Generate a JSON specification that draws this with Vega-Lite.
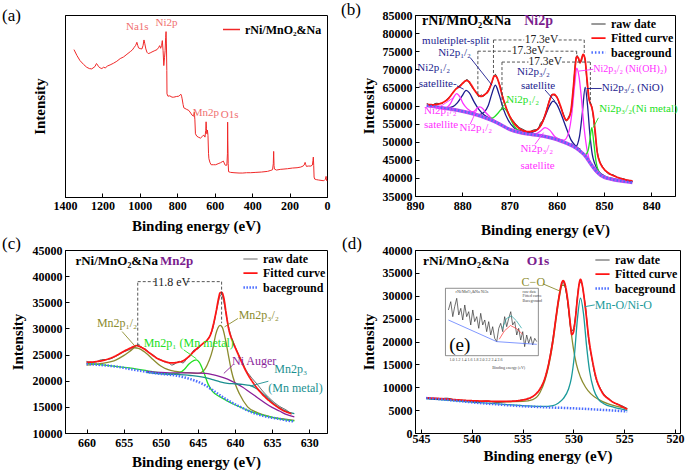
{
"$schema":"https://vega.github.io/schema/vega-lite/v6.json",
"padding":{"left":1,"top":0,"right":0,"bottom":0},
"background":"white",
"config":{
 "font":"Liberation Serif",
 "view":{"stroke":"black","strokeWidth":1},
 "axis":{"domainColor":"black","domainWidth":1,"tickColor":"black","tickSize":-4,"labelFont":"Liberation Serif","labelFontSize":12,"labelFontWeight":"bold","labelColor":"black","titleFont":"Liberation Serif","titleFontSize":15,"titleFontWeight":"bold","titleColor":"black","grid":false,"labelPadding":7,"labelFlush":false,"labelOverlap":false},
 "legend":{"orient":"top-right","offset":1,"labelFont":"Liberation Serif","labelFontSize":12,"labelFontWeight":"bold","labelColor":"black","symbolType":"stroke","symbolSize":200,"rowPadding":0,"padding":0},
 "title":{"font":"Liberation Serif","fontSize":17,"fontWeight":"normal","anchor":"start","frame":"group","baseline":"alphabetic","offset":1,"dy":11,"color":"black"},
 "text":{"font":"Liberation Serif"}
},
"datasets":{
 "a_curve":[{"x":1352,"y":443},{"x":1336,"y":425},{"x":1320,"y":410},{"x":1300,"y":398},{"x":1284,"y":390},{"x":1270,"y":386},{"x":1257,"y":385},{"x":1240,"y":392},{"x":1232,"y":401},{"x":1228,"y":399},{"x":1221,"y":392},{"x":1212,"y":388},{"x":1203,"y":386},{"x":1194,"y":390},{"x":1185,"y":388},{"x":1172,"y":394},{"x":1159,"y":397},{"x":1141,"y":402},{"x":1123,"y":408},{"x":1105,"y":416},{"x":1087,"y":421},{"x":1069,"y":429},{"x":1051,"y":437},{"x":1040,"y":442},{"x":1030,"y":450},{"x":1022,"y":456},{"x":1016,"y":465},{"x":1011,"y":455},{"x":1007,"y":448},{"x":998,"y":446},{"x":989,"y":445},{"x":983,"y":455},{"x":978,"y":472},{"x":974,"y":462},{"x":968,"y":445},{"x":962,"y":435},{"x":955,"y":431},{"x":945,"y":433},{"x":935,"y":436},{"x":920,"y":440},{"x":908,"y":443},{"x":899,"y":450},{"x":894,"y":455},{"x":889,"y":447},{"x":884,"y":455},{"x":880,"y":470},{"x":876,"y":440},{"x":872,"y":395},{"x":868,"y":420},{"x":865,"y":440},{"x":862,"y":480},{"x":860,"y":497},{"x":858,"y":460},{"x":856,"y":380},{"x":855,"y":310},{"x":850,"y":303},{"x":840,"y":304},{"x":828,"y":300},{"x":819,"y":300},{"x":805,"y":302},{"x":792,"y":303},{"x":786,"y":306},{"x":781,"y":309},{"x":777,"y":303},{"x":774,"y":295},{"x":769,"y":278},{"x":765,"y":268},{"x":752,"y":264},{"x":738,"y":260},{"x":728,"y":252},{"x":721,"y":246},{"x":713,"y":243},{"x":709,"y":255},{"x":706,"y":232},{"x":703,"y":190},{"x":696,"y":183},{"x":688,"y":180},{"x":676,"y":177},{"x":665,"y":183},{"x":658,"y":186},{"x":652,"y":180},{"x":648,"y":200},{"x":646,"y":226},{"x":644,"y":205},{"x":642,"y":190},{"x":639,"y":201},{"x":636,"y":185},{"x":633,"y":130},{"x":631,"y":115},{"x":625,"y":103},{"x":619,"y":97},{"x":607,"y":97},{"x":595,"y":97},{"x":582,"y":100},{"x":569,"y":103},{"x":560,"y":106},{"x":554,"y":108},{"x":549,"y":102},{"x":546,"y":97},{"x":540,"y":95},{"x":535,"y":96},{"x":532,"y":130},{"x":531,"y":225},{"x":530,"y":170},{"x":528,"y":100},{"x":526,"y":76},{"x":515,"y":74},{"x":497,"y":73},{"x":470,"y":72},{"x":450,"y":72},{"x":430,"y":73},{"x":408,"y":73},{"x":380,"y":74},{"x":350,"y":75},{"x":318,"y":77},{"x":300,"y":80},{"x":291,"y":82},{"x":287,"y":100},{"x":285,"y":137},{"x":283,"y":95},{"x":281,"y":84},{"x":270,"y":81},{"x":250,"y":83},{"x":230,"y":84},{"x":211,"y":85},{"x":185,"y":87},{"x":160,"y":88},{"x":140,"y":90},{"x":128,"y":93},{"x":122,"y":96},{"x":117,"y":104},{"x":114,"y":98},{"x":110,"y":92},{"x":100,"y":93},{"x":86,"y":93},{"x":78,"y":96},{"x":75,"y":110},{"x":73,"y":120},{"x":71,"y":95},{"x":69,"y":60},{"x":66,"y":54},{"x":55,"y":52},{"x":45,"y":51},{"x":32,"y":50},{"x":20,"y":49},{"x":14,"y":50},{"x":9,"y":53},{"x":5,"y":62},{"x":3,"y":55},{"x":1,"y":48}],
 "a_label":[{"x":1014,"y":510,"t":"Na1s"},{"x":858,"y":523,"t":"Ni2p"},{"x":647,"y":253,"t":"Mn2p"},{"x":520,"y":247,"t":"O1s"}],
 "b_comp":[
  {"x":885,"y":59500,"c":"n1","g":"NiO"},{"x":883,"y":59400,"c":"n1","g":"NiO"},{"x":882,"y":59700,"c":"n1","g":"NiO"},{"x":881,"y":60800,"c":"n1","g":"NiO"},{"x":880,"y":62700,"c":"n1","g":"NiO"},{"x":879.2,"y":64200,"c":"n1","g":"NiO"},{"x":878.5,"y":63500,"c":"n1","g":"NiO"},{"x":877.5,"y":61000,"c":"n1","g":"NiO"},{"x":876.5,"y":58900,"c":"n1","g":"NiO"},{"x":875.5,"y":57500,"c":"n1","g":"NiO"},{"x":874,"y":56300,"c":"n1","g":"NiO"},{"x":872,"y":55000,"c":"n1","g":"NiO"},
  {"x":878,"y":57900,"c":"n2","g":"NiO"},{"x":876.5,"y":57500,"c":"n2","g":"NiO"},{"x":875.5,"y":58000,"c":"n2","g":"NiO"},{"x":874.5,"y":60000,"c":"n2","g":"NiO"},{"x":873.8,"y":63000,"c":"n2","g":"NiO"},{"x":873,"y":65600,"c":"n2","g":"NiO"},{"x":872.2,"y":63000,"c":"n2","g":"NiO"},{"x":871.3,"y":59000,"c":"n2","g":"NiO"},{"x":870.3,"y":56000,"c":"n2","g":"NiO"},{"x":869,"y":53800,"c":"n2","g":"NiO"},{"x":867,"y":52800,"c":"n2","g":"NiO"},{"x":865,"y":52300,"c":"n2","g":"NiO"},
  {"x":866,"y":52400,"c":"n3","g":"NiO"},{"x":864.5,"y":53000,"c":"n3","g":"NiO"},{"x":863.5,"y":54300,"c":"n3","g":"NiO"},{"x":862.5,"y":57000,"c":"n3","g":"NiO"},{"x":861.5,"y":60000,"c":"n3","g":"NiO"},{"x":860.8,"y":61200,"c":"n3","g":"NiO"},{"x":860,"y":60300,"c":"n3","g":"NiO"},{"x":859,"y":57300,"c":"n3","g":"NiO"},{"x":858,"y":53800,"c":"n3","g":"NiO"},{"x":857,"y":50500,"c":"n3","g":"NiO"},{"x":856,"y":48800,"c":"n3","g":"NiO"},{"x":855,"y":47800,"c":"n3","g":"NiO"},
  {"x":857,"y":49400,"c":"n4","g":"NiO"},{"x":856,"y":48700,"c":"n4","g":"NiO"},{"x":855.2,"y":51500,"c":"n4","g":"NiO"},{"x":854.6,"y":58000,"c":"n4","g":"NiO"},{"x":854,"y":65100,"c":"n4","g":"NiO"},{"x":853.5,"y":60000,"c":"n4","g":"NiO"},{"x":853,"y":52000,"c":"n4","g":"NiO"},{"x":852.5,"y":46500,"c":"n4","g":"NiO"},{"x":852,"y":44000,"c":"n4","g":"NiO"},{"x":851,"y":41600,"c":"n4","g":"NiO"},{"x":850,"y":40600,"c":"n4","g":"NiO"},{"x":848,"y":39800,"c":"n4","g":"NiO"},{"x":846,"y":39300,"c":"n4","g":"NiO"},{"x":844,"y":38900,"c":"n4","g":"NiO"},
  {"x":887.5,"y":60000,"c":"m1","g":"Ni(OH)2"},{"x":885,"y":59500,"c":"m1","g":"Ni(OH)2"},{"x":883.5,"y":59400,"c":"m1","g":"Ni(OH)2"},{"x":882.5,"y":60500,"c":"m1","g":"Ni(OH)2"},{"x":881.8,"y":62300,"c":"m1","g":"Ni(OH)2"},{"x":881.2,"y":63300,"c":"m1","g":"Ni(OH)2"},{"x":880.5,"y":62400,"c":"m1","g":"Ni(OH)2"},{"x":879.8,"y":60500,"c":"m1","g":"Ni(OH)2"},{"x":879,"y":59200,"c":"m1","g":"Ni(OH)2"},{"x":878,"y":58300,"c":"m1","g":"Ni(OH)2"},{"x":876,"y":57300,"c":"m1","g":"Ni(OH)2"},
  {"x":880,"y":58600,"c":"m2","g":"Ni(OH)2"},{"x":878.5,"y":58100,"c":"m2","g":"Ni(OH)2"},{"x":877.5,"y":58400,"c":"m2","g":"Ni(OH)2"},{"x":876.8,"y":59300,"c":"m2","g":"Ni(OH)2"},{"x":876.3,"y":59600,"c":"m2","g":"Ni(OH)2"},{"x":875.7,"y":59200,"c":"m2","g":"Ni(OH)2"},{"x":875,"y":58000,"c":"m2","g":"Ni(OH)2"},{"x":874,"y":56700,"c":"m2","g":"Ni(OH)2"},{"x":873,"y":55700,"c":"m2","g":"Ni(OH)2"},
  {"x":866,"y":52300,"c":"m3","g":"Ni(OH)2"},{"x":864.5,"y":52200,"c":"m3","g":"Ni(OH)2"},{"x":863.5,"y":52900,"c":"m3","g":"Ni(OH)2"},{"x":862.5,"y":53900,"c":"m3","g":"Ni(OH)2"},{"x":861.5,"y":53200,"c":"m3","g":"Ni(OH)2"},{"x":860.5,"y":51500,"c":"m3","g":"Ni(OH)2"},{"x":859.5,"y":50700,"c":"m3","g":"Ni(OH)2"},{"x":858.5,"y":50200,"c":"m3","g":"Ni(OH)2"},
  {"x":861,"y":51100,"c":"m4","g":"Ni(OH)2"},{"x":859.5,"y":50600,"c":"m4","g":"Ni(OH)2"},{"x":858.5,"y":50400,"c":"m4","g":"Ni(OH)2"},{"x":857.5,"y":52500,"c":"m4","g":"Ni(OH)2"},{"x":856.8,"y":58000,"c":"m4","g":"Ni(OH)2"},{"x":856.2,"y":66000,"c":"m4","g":"Ni(OH)2"},{"x":855.8,"y":70300,"c":"m4","g":"Ni(OH)2"},{"x":855.3,"y":68000,"c":"m4","g":"Ni(OH)2"},{"x":854.8,"y":62000,"c":"m4","g":"Ni(OH)2"},{"x":854.2,"y":53500,"c":"m4","g":"Ni(OH)2"},{"x":853.5,"y":47000,"c":"m4","g":"Ni(OH)2"},{"x":853,"y":44500,"c":"m4","g":"Ni(OH)2"},{"x":852.5,"y":43000,"c":"m4","g":"Ni(OH)2"},{"x":852,"y":42000,"c":"m4","g":"Ni(OH)2"},{"x":851,"y":40900,"c":"m4","g":"Ni(OH)2"},{"x":849,"y":39800,"c":"m4","g":"Ni(OH)2"},
  {"x":876,"y":57000,"c":"g1","g":"Ni metal"},{"x":874.5,"y":56400,"c":"g1","g":"Ni metal"},{"x":873.5,"y":56600,"c":"g1","g":"Ni metal"},{"x":872.5,"y":57800,"c":"g1","g":"Ni metal"},{"x":871.7,"y":59000,"c":"g1","g":"Ni metal"},{"x":871.2,"y":59300,"c":"g1","g":"Ni metal"},{"x":870.6,"y":58500,"c":"g1","g":"Ni metal"},{"x":869.8,"y":56300,"c":"g1","g":"Ni metal"},{"x":869,"y":54300,"c":"g1","g":"Ni metal"},{"x":868,"y":53000,"c":"g1","g":"Ni metal"},{"x":866.5,"y":52400,"c":"g1","g":"Ni metal"},
  {"x":855,"y":47600,"c":"g2","g":"Ni metal"},{"x":854,"y":46400,"c":"g2","g":"Ni metal"},{"x":853.4,"y":47500,"c":"g2","g":"Ni metal"},{"x":853,"y":50500,"c":"g2","g":"Ni metal"},{"x":852.6,"y":53900,"c":"g2","g":"Ni metal"},{"x":852.2,"y":50000,"c":"g2","g":"Ni metal"},{"x":851.7,"y":44500,"c":"g2","g":"Ni metal"},{"x":851,"y":41500,"c":"g2","g":"Ni metal"},{"x":850,"y":40400,"c":"g2","g":"Ni metal"},{"x":848,"y":39700,"c":"g2","g":"Ni metal"}
 ],
 "b_main":[
  {"x":887.5,"y":60500,"s":"raw date"},{"x":886.5,"y":60100,"s":"raw date"},{"x":885.5,"y":60600,"s":"raw date"},{"x":884.5,"y":60500,"s":"raw date"},{"x":883.5,"y":61400,"s":"raw date"},{"x":882.5,"y":62700,"s":"raw date"},{"x":881.5,"y":64400,"s":"raw date"},{"x":880.5,"y":65600,"s":"raw date"},{"x":879.5,"y":66500,"s":"raw date"},{"x":879,"y":67200,"s":"raw date"},{"x":878.5,"y":66200,"s":"raw date"},{"x":877.5,"y":64300,"s":"raw date"},{"x":877,"y":63700,"s":"raw date"},{"x":876.5,"y":62400,"s":"raw date"},{"x":876,"y":62900,"s":"raw date"},{"x":875.5,"y":62600,"s":"raw date"},{"x":875,"y":63300,"s":"raw date"},{"x":874.5,"y":64300,"s":"raw date"},{"x":874,"y":65500,"s":"raw date"},{"x":873.5,"y":67300,"s":"raw date"},{"x":873,"y":68600,"s":"raw date"},{"x":872.5,"y":67100,"s":"raw date"},{"x":872,"y":65400,"s":"raw date"},{"x":871.5,"y":62800,"s":"raw date"},{"x":871,"y":60200,"s":"raw date"},{"x":870.5,"y":58700,"s":"raw date"},{"x":870,"y":57200,"s":"raw date"},{"x":869,"y":55400,"s":"raw date"},{"x":868,"y":54000,"s":"raw date"},{"x":867,"y":53300,"s":"raw date"},{"x":866,"y":52600,"s":"raw date"},{"x":865,"y":53200,"s":"raw date"},{"x":864,"y":53400,"s":"raw date"},{"x":863.5,"y":55000,"s":"raw date"},{"x":863,"y":55900,"s":"raw date"},{"x":862.5,"y":57400,"s":"raw date"},{"x":862,"y":59500,"s":"raw date"},{"x":861.5,"y":61700,"s":"raw date"},{"x":861,"y":63100,"s":"raw date"},{"x":860.5,"y":62800,"s":"raw date"},{"x":860,"y":62500,"s":"raw date"},{"x":859.5,"y":60500,"s":"raw date"},{"x":859,"y":59000,"s":"raw date"},{"x":858.5,"y":57300,"s":"raw date"},{"x":858,"y":55700,"s":"raw date"},{"x":857.5,"y":56900,"s":"raw date"},{"x":857,"y":58400,"s":"raw date"},{"x":856.5,"y":64800,"s":"raw date"},{"x":856,"y":72500,"s":"raw date"},{"x":855.7,"y":73800,"s":"raw date"},{"x":855.4,"y":72700,"s":"raw date"},{"x":855.1,"y":72000,"s":"raw date"},{"x":854.8,"y":72200,"s":"raw date"},{"x":854.5,"y":74000,"s":"raw date"},{"x":854.1,"y":73200,"s":"raw date"},{"x":853.7,"y":67800,"s":"raw date"},{"x":853.3,"y":62400,"s":"raw date"},{"x":853,"y":60900,"s":"raw date"},{"x":852.7,"y":60200,"s":"raw date"},{"x":852.4,"y":58000,"s":"raw date"},{"x":852,"y":53500,"s":"raw date"},{"x":851.5,"y":47800,"s":"raw date"},{"x":851,"y":44800,"s":"raw date"},{"x":850.5,"y":43500,"s":"raw date"},{"x":850,"y":42500,"s":"raw date"},{"x":849,"y":41100,"s":"raw date"},{"x":848,"y":40800,"s":"raw date"},{"x":847,"y":40000,"s":"raw date"},{"x":846,"y":39800,"s":"raw date"},{"x":845,"y":39300,"s":"raw date"},{"x":844,"y":39100,"s":"raw date"},
  {"x":887.5,"y":60300,"s":"Fitted curve"},{"x":886,"y":60200,"s":"Fitted curve"},{"x":885,"y":60400,"s":"Fitted curve"},{"x":884,"y":60900,"s":"Fitted curve"},{"x":883,"y":61800,"s":"Fitted curve"},{"x":882,"y":63500,"s":"Fitted curve"},{"x":881.2,"y":64700,"s":"Fitted curve"},{"x":880.5,"y":65300,"s":"Fitted curve"},{"x":879.8,"y":66300,"s":"Fitted curve"},{"x":879.2,"y":66900,"s":"Fitted curve"},{"x":878.6,"y":66600,"s":"Fitted curve"},{"x":878,"y":65500,"s":"Fitted curve"},{"x":877.2,"y":63800,"s":"Fitted curve"},{"x":876.5,"y":62800,"s":"Fitted curve"},{"x":876,"y":62500,"s":"Fitted curve"},{"x":875.3,"y":63000,"s":"Fitted curve"},{"x":874.5,"y":64000,"s":"Fitted curve"},{"x":873.8,"y":66200,"s":"Fitted curve"},{"x":873.2,"y":68200,"s":"Fitted curve"},{"x":872.8,"y":68000,"s":"Fitted curve"},{"x":872.2,"y":66000,"s":"Fitted curve"},{"x":871.5,"y":62500,"s":"Fitted curve"},{"x":871,"y":60500,"s":"Fitted curve"},{"x":870.3,"y":58000,"s":"Fitted curve"},{"x":869.5,"y":56000,"s":"Fitted curve"},{"x":868.5,"y":54300,"s":"Fitted curve"},{"x":867,"y":53000,"s":"Fitted curve"},{"x":866,"y":52800,"s":"Fitted curve"},{"x":865,"y":52900,"s":"Fitted curve"},{"x":864,"y":53500,"s":"Fitted curve"},{"x":863,"y":55500,"s":"Fitted curve"},{"x":862.2,"y":58500,"s":"Fitted curve"},{"x":861.5,"y":61500,"s":"Fitted curve"},{"x":861,"y":62900,"s":"Fitted curve"},{"x":860.6,"y":63100,"s":"Fitted curve"},{"x":860,"y":62300,"s":"Fitted curve"},{"x":859.2,"y":59800,"s":"Fitted curve"},{"x":858.5,"y":57000,"s":"Fitted curve"},{"x":858,"y":56000,"s":"Fitted curve"},{"x":857.5,"y":56500,"s":"Fitted curve"},{"x":857,"y":58800,"s":"Fitted curve"},{"x":856.5,"y":65000,"s":"Fitted curve"},{"x":856.1,"y":71000,"s":"Fitted curve"},{"x":855.8,"y":73500,"s":"Fitted curve"},{"x":855.4,"y":73000,"s":"Fitted curve"},{"x":855.1,"y":71800,"s":"Fitted curve"},{"x":854.8,"y":72800,"s":"Fitted curve"},{"x":854.4,"y":74100,"s":"Fitted curve"},{"x":854,"y":72500,"s":"Fitted curve"},{"x":853.6,"y":67000,"s":"Fitted curve"},{"x":853.2,"y":62000,"s":"Fitted curve"},{"x":852.9,"y":60500,"s":"Fitted curve"},{"x":852.6,"y":59500,"s":"Fitted curve"},{"x":852.3,"y":57500,"s":"Fitted curve"},{"x":851.9,"y":53000,"s":"Fitted curve"},{"x":851.5,"y":47500,"s":"Fitted curve"},{"x":851,"y":44700,"s":"Fitted curve"},{"x":850.5,"y":43300,"s":"Fitted curve"},{"x":850,"y":42400,"s":"Fitted curve"},{"x":849,"y":41300,"s":"Fitted curve"},{"x":848,"y":40600,"s":"Fitted curve"},{"x":847,"y":40100,"s":"Fitted curve"},{"x":846,"y":39700,"s":"Fitted curve"},{"x":845,"y":39400,"s":"Fitted curve"},{"x":844,"y":39200,"s":"Fitted curve"},
  {"x":887.5,"y":60000,"s":"baceground"},{"x":886,"y":59700,"s":"baceground"},{"x":884,"y":59300,"s":"baceground"},{"x":882,"y":58900,"s":"baceground"},{"x":880,"y":58400,"s":"baceground"},{"x":878,"y":57800,"s":"baceground"},{"x":876,"y":57000,"s":"baceground"},{"x":874,"y":56000,"s":"baceground"},{"x":872,"y":54800,"s":"baceground"},{"x":870,"y":53400,"s":"baceground"},{"x":868,"y":52600,"s":"baceground"},{"x":866,"y":52100,"s":"baceground"},{"x":864,"y":51800,"s":"baceground"},{"x":862,"y":51300,"s":"baceground"},{"x":860,"y":50600,"s":"baceground"},{"x":858,"y":49600,"s":"baceground"},{"x":856,"y":48300,"s":"baceground"},{"x":855,"y":47300,"s":"baceground"},{"x":854,"y":46100,"s":"baceground"},{"x":853,"y":44200,"s":"baceground"},{"x":852,"y":42400,"s":"baceground"},{"x":851,"y":41000,"s":"baceground"},{"x":850,"y":40200,"s":"baceground"},{"x":849,"y":39800,"s":"baceground"},{"x":848,"y":39500,"s":"baceground"},{"x":846,"y":39100,"s":"baceground"},{"x":844,"y":38700,"s":"baceground"}
 ],
 "b_guide":[{"x":873.4,"y":78100,"x2":866.9,"y2":78100},{"x":859.6,"y":78100,"x2":854.2,"y2":78100},{"x":873.4,"y":78100,"x2":873.4,"y2":68300},{"x":854.2,"y":78100,"x2":854.2,"y2":74200},{"x":876.7,"y":75000,"x2":869.6,"y2":75000},{"x":862.4,"y":75000,"x2":855.8,"y2":75000},{"x":876.7,"y":75000,"x2":876.7,"y2":62700},{"x":855.8,"y":75000,"x2":855.8,"y2":73600},{"x":871.6,"y":72000,"x2":866.0,"y2":72000},{"x":858.9,"y":72000,"x2":852.9,"y2":72000},{"x":871.6,"y":72000,"x2":871.6,"y2":58500},{"x":852.9,"y":72000,"x2":852.9,"y2":60500}],
 "b_gtext":[{"x":863.25,"y":78100,"t":"17.3eV"},{"x":866.0,"y":75000,"t":"17.3eV"},{"x":862.45,"y":72000,"t":"17.3eV"}],
 "b_arrow":[{"x":878.3,"y":73200,"x2":873.7,"y2":65600,"g":"NiO"},{"x":881.1,"y":65400,"x2":879.7,"y2":64500,"g":"NiO"},{"x":885.6,"y":58900,"x2":881.8,"y2":62200,"g":"Ni(OH)2"},{"x":878.3,"y":54900,"x2":876.9,"y2":58900,"g":"Ni(OH)2"},{"x":870.4,"y":61300,"x2":871.6,"y2":59400,"g":"Ni metal"},{"x":862.5,"y":64300,"x2":860.4,"y2":61200,"g":"NiO"},{"x":864.6,"y":49300,"x2":862.8,"y2":52500,"g":"Ni(OH)2"},{"x":852.3,"y":70000,"x2":855.4,"y2":69500,"g":"Ni(OH)2"},{"x":850.5,"y":64700,"x2":853.7,"y2":64700,"g":"NiO"},{"x":851.2,"y":56600,"x2":852.3,"y2":53900,"g":"Ni metal"}],
 "b_text":[{"x":888.5,"y":77800,"t":"muletiplet-split","g":"NiO"},{"x":885.1,"y":74600,"t":"Ni2p₁/₂","g":"NiO"},{"x":889.5,"y":70450,"t":"Ni2p₁/₂","g":"NiO"},{"x":889.2,"y":65850,"t":"satellite-","g":"NiO"},{"x":888.1,"y":58400,"t":"Ni2p₁/₂","g":"Ni(OH)2"},{"x":888.1,"y":54700,"t":"satellite","g":"Ni(OH)2"},{"x":880.6,"y":53900,"t":"Ni2p₁/₂","g":"Ni(OH)2"},{"x":870.7,"y":61600,"t":"Ni2p₁/₂","g":"Ni metal"},{"x":868.4,"y":69300,"t":"Ni2p₃/₂","g":"NiO"},{"x":867.6,"y":65300,"t":"satellite","g":"NiO"},{"x":867.7,"y":48100,"t":"Ni2p₃/₂","g":"Ni(OH)2"},{"x":867.7,"y":43300,"t":"satellite","g":"Ni(OH)2"},{"x":850.5,"y":64700,"t":"Ni2p₃/₂ (NiO)","g":"NiO"},{"x":851.0,"y":59100,"t":"Ni2p₃/₂(Ni metal)","g":"Ni metal"}],
 "b_text2":[{"x":852.3,"y":70000,"t":"Ni2p₃/₂ (Ni(OH)₂)","g":"Ni(OH)2"}],
 "b_head":[{"x":888.5,"y":83300,"t":"rNi/MnO₂&Na","k":"sample"},{"x":866.9,"y":83300,"t":"Ni2p","k":"region"}],
 "c_comp":[
  {"x":660,"y":23000,"g":"Mn2p"},{"x":658,"y":23300,"g":"Mn2p"},{"x":656,"y":24000,"g":"Mn2p"},{"x":655,"y":24800,"g":"Mn2p"},{"x":654,"y":25800,"g":"Mn2p"},{"x":653.5,"y":26300,"g":"Mn2p"},{"x":653,"y":26200,"g":"Mn2p"},{"x":652,"y":25300,"g":"Mn2p"},{"x":651,"y":24000,"g":"Mn2p"},{"x":650,"y":22800,"g":"Mn2p"},{"x":649,"y":22100,"g":"Mn2p"},{"x":648,"y":21800,"g":"Mn2p"},{"x":647,"y":21600,"g":"Mn2p"},{"x":646,"y":21500,"g":"Mn2p"},{"x":645,"y":21400,"g":"Mn2p"},{"x":644.5,"y":21600,"g":"Mn2p"},{"x":644,"y":22300,"g":"Mn2p"},{"x":643.5,"y":23800,"g":"Mn2p"},{"x":643,"y":26000,"g":"Mn2p"},{"x":642.6,"y":28800,"g":"Mn2p"},{"x":642.3,"y":30100,"g":"Mn2p"},{"x":642,"y":30600,"g":"Mn2p"},{"x":641.7,"y":30200,"g":"Mn2p"},{"x":641.3,"y":28000,"g":"Mn2p"},{"x":640.9,"y":25000,"g":"Mn2p"},{"x":640.5,"y":22000,"g":"Mn2p"},{"x":640,"y":19500,"g":"Mn2p"},{"x":639.4,"y":17500,"g":"Mn2p"},{"x":638.3,"y":15000,"g":"Mn2p"},{"x":637,"y":13900,"g":"Mn2p"},{"x":636,"y":13400,"g":"Mn2p"},{"x":635,"y":13000,"g":"Mn2p"},{"x":634,"y":12800,"g":"Mn2p"},{"x":633,"y":12600,"g":"Mn2p"},{"x":632,"y":12400,"g":"Mn2p"},
  {"x":660,"y":23300,"g":"Mn2p1 metal"},{"x":657,"y":22900,"g":"Mn2p1 metal"},{"x":654,"y":22400,"g":"Mn2p1 metal"},{"x":651,"y":21700,"g":"Mn2p1 metal"},{"x":648.5,"y":21300,"g":"Mn2p1 metal"},{"x":647.5,"y":21500,"g":"Mn2p1 metal"},{"x":646.8,"y":22200,"g":"Mn2p1 metal"},{"x":646.2,"y":23200,"g":"Mn2p1 metal"},{"x":645.5,"y":23900,"g":"Mn2p1 metal"},{"x":645.2,"y":24000,"g":"Mn2p1 metal"},{"x":644.8,"y":23500,"g":"Mn2p1 metal"},{"x":644.2,"y":21600,"g":"Mn2p1 metal"},{"x":643.6,"y":19300,"g":"Mn2p1 metal"},{"x":643,"y":17900,"g":"Mn2p1 metal"},{"x":642,"y":16900,"g":"Mn2p1 metal"},{"x":641,"y":16100,"g":"Mn2p1 metal"},{"x":640,"y":15400,"g":"Mn2p1 metal"},{"x":638,"y":14200,"g":"Mn2p1 metal"},{"x":636,"y":13300,"g":"Mn2p1 metal"},{"x":634,"y":12700,"g":"Mn2p1 metal"},{"x":632,"y":12300,"g":"Mn2p1 metal"},
  {"x":652,"y":21800,"g":"Ni Auger"},{"x":650,"y":21600,"g":"Ni Auger"},{"x":648,"y":21500,"g":"Ni Auger"},{"x":646,"y":21500,"g":"Ni Auger"},{"x":644,"y":21400,"g":"Ni Auger"},{"x":643,"y":21150,"g":"Ni Auger"},{"x":642,"y":20800,"g":"Ni Auger"},{"x":641,"y":20300,"g":"Ni Auger"},{"x":640,"y":19600,"g":"Ni Auger"},{"x":639,"y":18800,"g":"Ni Auger"},{"x":638,"y":17800,"g":"Ni Auger"},{"x":637,"y":16800,"g":"Ni Auger"},{"x":636,"y":15800,"g":"Ni Auger"},{"x":635,"y":14900,"g":"Ni Auger"},{"x":634,"y":14200,"g":"Ni Auger"},{"x":633,"y":13500,"g":"Ni Auger"},{"x":632,"y":13100,"g":"Ni Auger"},
  {"x":652,"y":21600,"g":"Mn2p3 metal"},{"x":650,"y":21300,"g":"Mn2p3 metal"},{"x":648,"y":21200,"g":"Mn2p3 metal"},{"x":646,"y":21000,"g":"Mn2p3 metal"},{"x":644,"y":20600,"g":"Mn2p3 metal"},{"x":643,"y":20200,"g":"Mn2p3 metal"},{"x":642,"y":19800,"g":"Mn2p3 metal"},{"x":641,"y":19500,"g":"Mn2p3 metal"},{"x":640,"y":19400,"g":"Mn2p3 metal"},{"x":639,"y":19300,"g":"Mn2p3 metal"},{"x":638,"y":19100,"g":"Mn2p3 metal"},{"x":637,"y":18400,"g":"Mn2p3 metal"},{"x":636,"y":17200,"g":"Mn2p3 metal"},{"x":635,"y":15900,"g":"Mn2p3 metal"},{"x":634,"y":14800,"g":"Mn2p3 metal"},{"x":633,"y":14100,"g":"Mn2p3 metal"},{"x":632,"y":13700,"g":"Mn2p3 metal"}
 ],
 "c_main":[
  {"x":660,"y":23700,"s":"raw date"},{"x":659,"y":23500,"s":"raw date"},{"x":658,"y":24000,"s":"raw date"},{"x":657,"y":24100,"s":"raw date"},{"x":656,"y":24700,"s":"raw date"},{"x":655,"y":25500,"s":"raw date"},{"x":654,"y":26100,"s":"raw date"},{"x":653.5,"y":26500,"s":"raw date"},{"x":653,"y":26900,"s":"raw date"},{"x":652.5,"y":26300,"s":"raw date"},{"x":652,"y":26000,"s":"raw date"},{"x":651.5,"y":25300,"s":"raw date"},{"x":651,"y":24900,"s":"raw date"},{"x":650.5,"y":24300,"s":"raw date"},{"x":650,"y":24000,"s":"raw date"},{"x":649.5,"y":23600,"s":"raw date"},{"x":649,"y":23500,"s":"raw date"},{"x":648.5,"y":23000,"s":"raw date"},{"x":648,"y":23300,"s":"raw date"},{"x":647.5,"y":23700,"s":"raw date"},{"x":647,"y":23400,"s":"raw date"},{"x":646.5,"y":24200,"s":"raw date"},{"x":646,"y":24800,"s":"raw date"},{"x":645.5,"y":25900,"s":"raw date"},{"x":645,"y":26100,"s":"raw date"},{"x":644.5,"y":26900,"s":"raw date"},{"x":644,"y":27400,"s":"raw date"},{"x":643.5,"y":28300,"s":"raw date"},{"x":643,"y":29900,"s":"raw date"},{"x":642.5,"y":33300,"s":"raw date"},{"x":642,"y":36200,"s":"raw date"},{"x":641.8,"y":36500,"s":"raw date"},{"x":641.5,"y":35000,"s":"raw date"},{"x":641,"y":31200,"s":"raw date"},{"x":640.5,"y":28400,"s":"raw date"},{"x":640,"y":26600,"s":"raw date"},{"x":639.5,"y":25000,"s":"raw date"},{"x":639,"y":23600,"s":"raw date"},{"x":638.5,"y":22000,"s":"raw date"},{"x":638,"y":21000,"s":"raw date"},{"x":637,"y":19300,"s":"raw date"},{"x":636,"y":17600,"s":"raw date"},{"x":635,"y":16200,"s":"raw date"},{"x":634,"y":15100,"s":"raw date"},{"x":633,"y":14300,"s":"raw date"},{"x":632.4,"y":13600,"s":"raw date"},
  {"x":660,"y":23500,"s":"Fitted curve"},{"x":659,"y":23600,"s":"Fitted curve"},{"x":658,"y":23800,"s":"Fitted curve"},{"x":657,"y":24200,"s":"Fitted curve"},{"x":656,"y":24800,"s":"Fitted curve"},{"x":655,"y":25600,"s":"Fitted curve"},{"x":654,"y":26300,"s":"Fitted curve"},{"x":653.3,"y":26700,"s":"Fitted curve"},{"x":652.5,"y":26300,"s":"Fitted curve"},{"x":651.5,"y":25300,"s":"Fitted curve"},{"x":650.5,"y":24300,"s":"Fitted curve"},{"x":649.5,"y":23700,"s":"Fitted curve"},{"x":648.6,"y":23400,"s":"Fitted curve"},{"x":647.8,"y":23500,"s":"Fitted curve"},{"x":647,"y":23800,"s":"Fitted curve"},{"x":646.3,"y":24500,"s":"Fitted curve"},{"x":645.6,"y":25500,"s":"Fitted curve"},{"x":645,"y":26300,"s":"Fitted curve"},{"x":644.4,"y":27000,"s":"Fitted curve"},{"x":643.8,"y":27700,"s":"Fitted curve"},{"x":643.3,"y":28800,"s":"Fitted curve"},{"x":642.9,"y":30800,"s":"Fitted curve"},{"x":642.5,"y":33500,"s":"Fitted curve"},{"x":642.2,"y":35800,"s":"Fitted curve"},{"x":642,"y":36800,"s":"Fitted curve"},{"x":641.8,"y":36900,"s":"Fitted curve"},{"x":641.5,"y":35800,"s":"Fitted curve"},{"x":641.2,"y":33000,"s":"Fitted curve"},{"x":640.9,"y":30300,"s":"Fitted curve"},{"x":640.3,"y":27500,"s":"Fitted curve"},{"x":639.8,"y":25800,"s":"Fitted curve"},{"x":639.3,"y":24200,"s":"Fitted curve"},{"x":638.5,"y":21800,"s":"Fitted curve"},{"x":637.5,"y":19500,"s":"Fitted curve"},{"x":636.5,"y":17700,"s":"Fitted curve"},{"x":635.5,"y":16300,"s":"Fitted curve"},{"x":634.5,"y":15200,"s":"Fitted curve"},{"x":633.5,"y":14300,"s":"Fitted curve"},{"x":632.4,"y":13700,"s":"Fitted curve"},
  {"x":660,"y":23200,"s":"baceground"},{"x":658,"y":23000,"s":"baceground"},{"x":656,"y":22700,"s":"baceground"},{"x":654,"y":22200,"s":"baceground"},{"x":652,"y":21700,"s":"baceground"},{"x":650,"y":21300,"s":"baceground"},{"x":648,"y":21000,"s":"baceground"},{"x":647,"y":20700,"s":"baceground"},{"x":646,"y":20300,"s":"baceground"},{"x":645,"y":19800,"s":"baceground"},{"x":644,"y":19100,"s":"baceground"},{"x":643,"y":18200,"s":"baceground"},{"x":642,"y":17200,"s":"baceground"},{"x":641,"y":16300,"s":"baceground"},{"x":640,"y":15500,"s":"baceground"},{"x":639,"y":14800,"s":"baceground"},{"x":638,"y":14100,"s":"baceground"},{"x":637,"y":13600,"s":"baceground"},{"x":636,"y":13200,"s":"baceground"},{"x":635,"y":12900,"s":"baceground"},{"x":634,"y":12700,"s":"baceground"},{"x":633,"y":12400,"s":"baceground"},{"x":632,"y":12200,"s":"baceground"}
 ],
 "c_guide":[{"x":653.1,"y":26700,"x2":653.1,"y2":38950},{"x":653.1,"y":38950,"x2":650.6,"y2":38950},{"x":646.5,"y":38950,"x2":641.8,"y2":38950},{"x":641.8,"y":38950,"x2":641.8,"y2":31000}],
 "c_gtext":[{"x":648.55,"y":38950,"t":"11.8 eV"}],
 "c_arrow":[{"x":655.2,"y":29400,"x2":653.4,"y2":26500,"g":"Mn2p"},{"x":646.9,"y":25900,"x2":645.2,"y2":24200,"g":"Mn2p1 metal"},{"x":639.6,"y":31900,"x2":641.4,"y2":30300,"g":"Mn2p"},{"x":640.3,"y":23000,"x2":641.5,"y2":21400,"g":"Ni Auger"},{"x":635.5,"y":19900,"x2":637.9,"y2":19000,"g":"Mn2p3 metal"}],
 "c_text":[{"x":658.6,"y":31000,"t":"Mn2p₁/₂","g":"Mn2p"},{"x":652.3,"y":27200,"t":"Mn2p₁ (Mn metal)","g":"Mn2p1 metal"},{"x":639.5,"y":32600,"t":"Mn2p₃/₂","g":"Mn2p"},{"x":640.4,"y":23700,"t":"Ni Auger","g":"Ni Auger"},{"x":634.7,"y":22300,"t":"Mn2p₃","g":"Mn2p3 metal"},{"x":635.5,"y":18600,"t":"(Mn metal)","g":"Mn2p3 metal"}],
 "c_head":[{"x":661.5,"y":42900,"t":"rNi/MnO₂&Na","k":"sample"},{"x":650.1,"y":42900,"t":"Mn2p","k":"region"}],
 "d_comp":[
  {"x":544.5,"y":7550,"g":"C-O"},{"x":540,"y":7000,"g":"C-O"},{"x":537,"y":6800,"g":"C-O"},{"x":535,"y":6900,"g":"C-O"},{"x":534,"y":7300,"g":"C-O"},{"x":533.3,"y":8800,"g":"C-O"},{"x":532.8,"y":11500,"g":"C-O"},{"x":532.4,"y":15000,"g":"C-O"},{"x":532,"y":20000,"g":"C-O"},{"x":531.7,"y":25000,"g":"C-O"},{"x":531.4,"y":29500,"g":"C-O"},{"x":531.1,"y":32300,"g":"C-O"},{"x":530.9,"y":32300,"g":"C-O"},{"x":530.6,"y":29500,"g":"C-O"},{"x":530.3,"y":23500,"g":"C-O"},{"x":530,"y":18500,"g":"C-O"},{"x":529.7,"y":15000,"g":"C-O"},{"x":529.3,"y":12200,"g":"C-O"},{"x":528.8,"y":10000,"g":"C-O"},{"x":528.3,"y":8600,"g":"C-O"},{"x":527.5,"y":7300,"g":"C-O"},{"x":526.5,"y":6300,"g":"C-O"},{"x":525.5,"y":5700,"g":"C-O"},{"x":524.7,"y":5300,"g":"C-O"},
  {"x":544.5,"y":7500,"g":"Mn-O/Ni-O"},{"x":540,"y":6750,"g":"Mn-O/Ni-O"},{"x":535,"y":6000,"g":"Mn-O/Ni-O"},{"x":533,"y":5800,"g":"Mn-O/Ni-O"},{"x":532,"y":6000,"g":"Mn-O/Ni-O"},{"x":531.5,"y":6500,"g":"Mn-O/Ni-O"},{"x":531,"y":7500,"g":"Mn-O/Ni-O"},{"x":530.5,"y":9500,"g":"Mn-O/Ni-O"},{"x":530.2,"y":12000,"g":"Mn-O/Ni-O"},{"x":529.9,"y":17000,"g":"Mn-O/Ni-O"},{"x":529.6,"y":25000,"g":"Mn-O/Ni-O"},{"x":529.3,"y":29500,"g":"Mn-O/Ni-O"},{"x":529,"y":26000,"g":"Mn-O/Ni-O"},{"x":528.7,"y":19000,"g":"Mn-O/Ni-O"},{"x":528.4,"y":13500,"g":"Mn-O/Ni-O"},{"x":528,"y":9500,"g":"Mn-O/Ni-O"},{"x":527.5,"y":7300,"g":"Mn-O/Ni-O"},{"x":527,"y":6400,"g":"Mn-O/Ni-O"},{"x":526,"y":5600,"g":"Mn-O/Ni-O"},{"x":525,"y":5100,"g":"Mn-O/Ni-O"},{"x":524.7,"y":4950,"g":"Mn-O/Ni-O"}
 ],
 "d_main":[
  {"x":544.5,"y":7600,"s":"raw date"},{"x":543.5,"y":7400,"s":"raw date"},{"x":542.5,"y":7600,"s":"raw date"},{"x":541.5,"y":7200,"s":"raw date"},{"x":540.5,"y":7100,"s":"raw date"},{"x":539.5,"y":6800,"s":"raw date"},{"x":538.5,"y":7000,"s":"raw date"},{"x":537.5,"y":6700,"s":"raw date"},{"x":536.5,"y":6900,"s":"raw date"},{"x":535.5,"y":7000,"s":"raw date"},{"x":535,"y":7300,"s":"raw date"},{"x":534.5,"y":7400,"s":"raw date"},{"x":534,"y":8000,"s":"raw date"},{"x":533.5,"y":8900,"s":"raw date"},{"x":533,"y":10800,"s":"raw date"},{"x":532.6,"y":13500,"s":"raw date"},{"x":532.2,"y":18200,"s":"raw date"},{"x":531.8,"y":24000,"s":"raw date"},{"x":531.5,"y":28800,"s":"raw date"},{"x":531.2,"y":32200,"s":"raw date"},{"x":531,"y":32900,"s":"raw date"},{"x":530.8,"y":31800,"s":"raw date"},{"x":530.6,"y":29200,"s":"raw date"},{"x":530.4,"y":25500,"s":"raw date"},{"x":530.2,"y":22200,"s":"raw date"},{"x":530,"y":22800,"s":"raw date"},{"x":529.8,"y":25500,"s":"raw date"},{"x":529.6,"y":30000,"s":"raw date"},{"x":529.4,"y":32700,"s":"raw date"},{"x":529.2,"y":32900,"s":"raw date"},{"x":529,"y":30500,"s":"raw date"},{"x":528.8,"y":27500,"s":"raw date"},{"x":528.5,"y":20500,"s":"raw date"},{"x":528.2,"y":16500,"s":"raw date"},{"x":527.8,"y":12000,"s":"raw date"},{"x":527.4,"y":10000,"s":"raw date"},{"x":527,"y":8500,"s":"raw date"},{"x":526.5,"y":7500,"s":"raw date"},{"x":526,"y":6600,"s":"raw date"},{"x":525.5,"y":6200,"s":"raw date"},{"x":525,"y":5700,"s":"raw date"},{"x":524.7,"y":5300,"s":"raw date"},
  {"x":544.5,"y":7700,"s":"Fitted curve"},{"x":543,"y":7500,"s":"Fitted curve"},{"x":541.5,"y":7250,"s":"Fitted curve"},{"x":540,"y":7050,"s":"Fitted curve"},{"x":538.5,"y":6950,"s":"Fitted curve"},{"x":537,"y":6900,"s":"Fitted curve"},{"x":536,"y":6950,"s":"Fitted curve"},{"x":535.3,"y":7100,"s":"Fitted curve"},{"x":534.5,"y":7500,"s":"Fitted curve"},{"x":533.8,"y":8300,"s":"Fitted curve"},{"x":533.3,"y":9600,"s":"Fitted curve"},{"x":532.8,"y":12000,"s":"Fitted curve"},{"x":532.4,"y":15500,"s":"Fitted curve"},{"x":532,"y":20500,"s":"Fitted curve"},{"x":531.7,"y":25500,"s":"Fitted curve"},{"x":531.4,"y":30000,"s":"Fitted curve"},{"x":531.15,"y":32800,"s":"Fitted curve"},{"x":531,"y":33300,"s":"Fitted curve"},{"x":530.8,"y":32300,"s":"Fitted curve"},{"x":530.5,"y":28000,"s":"Fitted curve"},{"x":530.3,"y":23800,"s":"Fitted curve"},{"x":530.15,"y":21500,"s":"Fitted curve"},{"x":530,"y":22000,"s":"Fitted curve"},{"x":529.8,"y":25000,"s":"Fitted curve"},{"x":529.6,"y":29500,"s":"Fitted curve"},{"x":529.4,"y":33000,"s":"Fitted curve"},{"x":529.3,"y":33600,"s":"Fitted curve"},{"x":529.1,"y":32000,"s":"Fitted curve"},{"x":528.8,"y":27000,"s":"Fitted curve"},{"x":528.5,"y":21000,"s":"Fitted curve"},{"x":528.1,"y":15500,"s":"Fitted curve"},{"x":527.7,"y":11600,"s":"Fitted curve"},{"x":527.2,"y":9000,"s":"Fitted curve"},{"x":526.4,"y":7200,"s":"Fitted curve"},{"x":525.5,"y":6100,"s":"Fitted curve"},{"x":524.7,"y":5200,"s":"Fitted curve"},
  {"x":544.5,"y":7650,"s":"baceground"},{"x":542,"y":7150,"s":"baceground"},{"x":540,"y":6700,"s":"baceground"},{"x":537.5,"y":6250,"s":"baceground"},{"x":535,"y":5850,"s":"baceground"},{"x":532.5,"y":5600,"s":"baceground"},{"x":530,"y":5400,"s":"baceground"},{"x":527.5,"y":5100,"s":"baceground"},{"x":525,"y":4750,"s":"baceground"},{"x":524.7,"y":4700,"s":"baceground"}
 ],
 "d_arrow":[{"x":533.0,"y":32600,"x2":531.3,"y2":31000,"g":"C-O"},{"x":527.9,"y":28000,"x2":528.9,"y2":27600,"g":"Mn-O/Ni-O"}],
 "d_text":[{"x":535.1,"y":33000,"t":"C−O","g":"C-O"},{"x":527.9,"y":28000,"t":"Mn-O/Ni-O","g":"Mn-O/Ni-O"}],
 "d_head":[{"x":544.8,"y":37600,"t":"rNi/MnO₂&Na","k":"sample"},{"x":534.6,"y":37600,"t":"O1s","k":"region"}],
 "e_box":[{"x":542.6,"y":31630,"x2":533.45,"y2":16900}],
 "e_line":[
  {"x":542.31,"y":26890,"s":"raw"},{"x":542.08,"y":28710,"s":"raw"},{"x":541.88,"y":25430,"s":"raw"},{"x":541.69,"y":27620,"s":"raw"},{"x":541.49,"y":29440,"s":"raw"},{"x":541.29,"y":25790,"s":"raw"},{"x":541.09,"y":27250,"s":"raw"},{"x":540.9,"y":24700,"s":"raw"},{"x":540.7,"y":27980,"s":"raw"},{"x":540.51,"y":25430,"s":"raw"},{"x":540.31,"y":26520,"s":"raw"},{"x":540.11,"y":23610,"s":"raw"},{"x":539.91,"y":26890,"s":"raw"},{"x":539.72,"y":24340,"s":"raw"},{"x":539.52,"y":25430,"s":"raw"},{"x":539.32,"y":22880,"s":"raw"},{"x":539.13,"y":26160,"s":"raw"},{"x":538.93,"y":23610,"s":"raw"},{"x":538.73,"y":24700,"s":"raw"},{"x":538.54,"y":22150,"s":"raw"},{"x":538.34,"y":24340,"s":"raw"},{"x":538.14,"y":21420,"s":"raw"},{"x":537.95,"y":23240,"s":"raw"},{"x":537.75,"y":20690,"s":"raw"},{"x":537.55,"y":19970,"s":"raw"},{"x":537.35,"y":22880,"s":"raw"},{"x":537.16,"y":23970,"s":"raw"},{"x":536.96,"y":22150,"s":"raw"},{"x":536.77,"y":25430,"s":"raw"},{"x":536.57,"y":23240,"s":"raw"},{"x":536.37,"y":25070,"s":"raw"},{"x":536.17,"y":26520,"s":"raw"},{"x":535.98,"y":23610,"s":"raw"},{"x":535.78,"y":24340,"s":"raw"},{"x":535.58,"y":21420,"s":"raw"},{"x":535.39,"y":22880,"s":"raw"},{"x":535.19,"y":20330,"s":"raw"},{"x":534.99,"y":22150,"s":"raw"},{"x":534.8,"y":18870,"s":"raw"},{"x":534.6,"y":21420,"s":"raw"},{"x":534.4,"y":19600,"s":"raw"},{"x":534.2,"y":21060,"s":"raw"},{"x":534.01,"y":19240,"s":"raw"},{"x":533.81,"y":20690,"s":"raw"},{"x":533.61,"y":19970,"s":"raw"},
  {"x":542.31,"y":24700,"s":"bg"},{"x":537.55,"y":19970,"s":"bg"},{"x":533.61,"y":19380,"s":"bg"},
  {"x":537.3,"y":20500,"s":"fit"},{"x":536.8,"y":22300,"s":"fit"},{"x":536.2,"y":23500,"s":"fit"},{"x":535.6,"y":22800,"s":"fit"},{"x":535.0,"y":21600,"s":"fit"},
  {"x":537.0,"y":22800,"s":"comp"},{"x":536.6,"y":25000,"s":"comp"},{"x":536.1,"y":25600,"s":"comp"},{"x":535.6,"y":24500,"s":"comp"},{"x":535.1,"y":22900,"s":"comp"}
 ],
 "e_text":[{"x":541.2,"y":19300,"t":"(e)","z":"big"},{"x":538.0,"y":14300,"t":"Binding energy (eV)","z":"small"},{"x":541.6,"y":30900,"t":"rNi/MnO₂&Na  Ni3s","z":"small"},{"x":535.0,"y":30900,"t":"raw date","z":"small"},{"x":535.0,"y":29900,"t":"Fitted curve","z":"small"},{"x":535.0,"y":28900,"t":"Baceground","z":"small"},{"x":542.2,"y":16000,"t":"1.0   1.2   1.4   1.6   1.8   2.0   2.2   2.4   2.6","z":"small"}]
},
"concat":[
 {
  "width":262,"height":182,
  "title":{"text":"(a)","dx":-63},
  "encoding":{
   "x":{"field":"x","type":"quantitative","scale":{"domain":[0,1400],"reverse":true,"nice":false,"zero":false},"axis":{"title":"Binding energy (eV)","values":[0,200,400,600,800,1000,1200,1400],"format":"d","titlePadding":7}},
   "y":{"field":"y","type":"quantitative","scale":{"domain":[0,547],"nice":false,"zero":false},"axis":{"title":"Intensity","labels":false,"ticks":false,"titlePadding":18}}
  },
  "layer":[
   {"data":{"name":"a_curve"},"mark":{"type":"line","strokeWidth":1},"encoding":{"color":{"datum":"rNi/MnO₂&Na","type":"nominal","scale":{"range":["#f02828"]},"legend":{"title":null,"orient":"top-right","offset":5,"symbolStrokeWidth":1.5,"symbolSize":290}}}},
   {"data":{"name":"a_label"},"mark":{"type":"text","fontSize":11,"color":"#f07070","baseline":"middle"},"encoding":{"text":{"field":"t"}}}
  ],
  "resolve":{"scale":{"color":"independent"}}
 },
 {
  "width":260,"height":181,
  "title":{"text":"(b)","dx":-74},
  "encoding":{
   "x":{"field":"x","type":"quantitative","scale":{"domain":[835,890],"reverse":true,"nice":false,"zero":false},"axis":{"title":"Binding energy (eV)","values":[840,850,860,870,880,890],"format":"d","labelPadding":8,"titlePadding":11}},
   "y":{"field":"y","type":"quantitative","scale":{"domain":[35000,85000],"nice":false,"zero":false},"axis":{"title":"Intensity","values":[35000,40000,45000,50000,55000,60000,65000,70000,75000,80000,85000],"format":"d","titlePadding":6}}
  },
  "layer":[
   {"data":{"name":"b_comp"},"mark":{"type":"line","strokeWidth":1.3,"interpolate":"monotone"},"encoding":{"color":{"field":"g","type":"nominal","scale":{"domain":["NiO","Ni(OH)2","Ni metal"],"range":["#1c1c8e","#ff30ff","#22e022"]},"legend":null},"detail":{"field":"c"}}},
   {"data":{"name":"b_main"},"transform":[{"filter":"datum.s === 'baceground'"}],"mark":{"type":"line","stroke":"#c04cf0","strokeWidth":3.5,"interpolate":"monotone"}},
   {"data":{"name":"b_main"},"mark":{"type":"line","interpolate":"monotone"},"encoding":{
     "color":{"field":"s","type":"nominal","scale":{"domain":["raw date","Fitted curve","baceground"],"range":["#1a1a1a","#ff1414","#4a6cff"]},"legend":{"title":null,"orient":"top-right","offset":1}},
     "strokeWidth":{"field":"s","type":"nominal","scale":{"domain":["raw date","Fitted curve","baceground"],"range":[1,2.5,2]},"legend":{"title":null,"orient":"top-right","offset":1}},
     "strokeDash":{"field":"s","type":"nominal","scale":{"domain":["raw date","Fitted curve","baceground"],"range":[[1,0],[1,0],[1.5,2]]},"legend":{"title":null,"orient":"top-right","offset":1}}}},
   {"data":{"name":"b_guide"},"mark":{"type":"rule","strokeDash":[3,2],"color":"#444444","strokeWidth":0.9},"encoding":{"x2":{"field":"x2"},"y2":{"field":"y2"}}},
   {"data":{"name":"b_arrow"},"mark":{"type":"rule","strokeWidth":0.9},"encoding":{"x2":{"field":"x2"},"y2":{"field":"y2"},"color":{"field":"g","type":"nominal","scale":{"domain":["NiO","Ni(OH)2","Ni metal"],"range":["#1c1c8e","#ff30ff","#22e022"]},"legend":null}}},
   {"data":{"name":"b_text"},"mark":{"type":"text","align":"left","baseline":"middle","fontSize":11},"encoding":{"text":{"field":"t"},"color":{"field":"g","type":"nominal","scale":{"domain":["NiO","Ni(OH)2","Ni metal"],"range":["#1c1c8e","#ff30ff","#22e022"]},"legend":null}}},
   {"data":{"name":"b_text2"},"mark":{"type":"text","align":"left","baseline":"middle","fontSize":10,"color":"#ff30ff"},"encoding":{"text":{"field":"t"}}},
   {"data":{"name":"b_gtext"},"mark":{"type":"text","align":"center","baseline":"middle","fontSize":11.5,"color":"#222222"},"encoding":{"text":{"field":"t"}}},
   {"data":{"name":"b_head"},"mark":{"type":"text","align":"left","baseline":"middle","fontSize":14,"fontWeight":"bold"},"encoding":{"text":{"field":"t"},"color":{"field":"k","type":"nominal","scale":{"domain":["sample","region"],"range":["#000000","#7a1e8e"]},"legend":null}}}
  ],
  "resolve":{"scale":{"color":"independent","strokeWidth":"independent","strokeDash":"independent"}}
 },
 {
  "width":262,"height":183,
  "title":{"text":"(c)","dx":-63,"offset":2},
  "encoding":{
   "x":{"field":"x","type":"quantitative","scale":{"domain":[627.6,662.9],"reverse":true,"nice":false,"zero":false},"axis":{"title":"Binding energy (eV)","values":[630,635,640,645,650,655,660],"format":"d","labelPadding":8,"titlePadding":6}},
   "y":{"field":"y","type":"quantitative","scale":{"domain":[10000,45000],"nice":false,"zero":false},"axis":{"title":"Intensity","values":[10000,15000,20000,25000,30000,35000,40000,45000],"format":"d","titlePadding":7}}
  },
  "layer":[
   {"data":{"name":"c_comp"},"mark":{"type":"line","strokeWidth":1.3,"interpolate":"monotone"},"encoding":{"color":{"field":"g","type":"nominal","scale":{"domain":["Mn2p","Mn2p1 metal","Ni Auger","Mn2p3 metal"],"range":["#8b8b2e","#22e022","#8a1f9a","#1a8f8f"]},"legend":null}}},
   {"data":{"name":"c_main"},"mark":{"type":"line","interpolate":"monotone"},"encoding":{
     "color":{"field":"s","type":"nominal","scale":{"domain":["raw date","Fitted curve","baceground"],"range":["#555555","#ff1414","#4a6cff"]},"legend":{"title":null,"orient":"top-right","offset":1}},
     "strokeWidth":{"field":"s","type":"nominal","scale":{"domain":["raw date","Fitted curve","baceground"],"range":[1,2.5,2.5]},"legend":{"title":null,"orient":"top-right","offset":1}},
     "strokeDash":{"field":"s","type":"nominal","scale":{"domain":["raw date","Fitted curve","baceground"],"range":[[1,0],[1,0],[1.5,1.5]]},"legend":{"title":null,"orient":"top-right","offset":1}}}},
   {"data":{"name":"c_guide"},"mark":{"type":"rule","strokeDash":[3,2],"color":"#444444","strokeWidth":0.9},"encoding":{"x2":{"field":"x2"},"y2":{"field":"y2"}}},
   {"data":{"name":"c_arrow"},"mark":{"type":"rule","strokeWidth":0.9},"encoding":{"x2":{"field":"x2"},"y2":{"field":"y2"},"color":{"field":"g","type":"nominal","scale":{"domain":["Mn2p","Mn2p1 metal","Ni Auger","Mn2p3 metal"],"range":["#8b8b2e","#22e022","#8a1f9a","#1a8f8f"]},"legend":null}}},
   {"data":{"name":"c_text"},"mark":{"type":"text","align":"left","baseline":"middle","fontSize":12},"encoding":{"text":{"field":"t"},"color":{"field":"g","type":"nominal","scale":{"domain":["Mn2p","Mn2p1 metal","Ni Auger","Mn2p3 metal"],"range":["#8b8b2e","#22e022","#8a1f9a","#1a8f8f"]},"legend":null}}},
   {"data":{"name":"c_gtext"},"mark":{"type":"text","align":"center","baseline":"middle","fontSize":12,"color":"#222222"},"encoding":{"text":{"field":"t"}}},
   {"data":{"name":"c_head"},"mark":{"type":"text","align":"left","baseline":"middle","fontSize":13,"fontWeight":"bold"},"encoding":{"text":{"field":"t"},"color":{"field":"k","type":"nominal","scale":{"domain":["sample","region"],"range":["#000000","#7a1e8e"]},"legend":null}}}
  ],
  "resolve":{"scale":{"color":"independent","strokeWidth":"independent","strokeDash":"independent"}}
 },
 {
  "width":265,"height":183,
  "title":{"text":"(d)","dx":-73,"offset":2},
  "encoding":{
   "x":{"field":"x","type":"quantitative","scale":{"domain":[519.5,545.6],"reverse":true,"nice":false,"zero":false},"axis":{"title":"Binding energy (eV)","values":[520,525,530,535,540,545],"format":"d","labelPadding":4,"titlePadding":4}},
   "y":{"field":"y","type":"quantitative","scale":{"domain":[0,40000],"nice":false,"zero":false},"axis":{"title":"Intensity","values":[0,5000,10000,15000,20000,25000,30000,35000,40000],"format":"d","titlePadding":6}}
  },
  "layer":[
   {"data":{"name":"d_comp"},"mark":{"type":"line","strokeWidth":1.3,"interpolate":"monotone"},"encoding":{"color":{"field":"g","type":"nominal","scale":{"domain":["C-O","Mn-O/Ni-O"],"range":["#8b8b2e","#1a9a9a"]},"legend":null}}},
   {"data":{"name":"d_main"},"mark":{"type":"line","interpolate":"monotone"},"encoding":{
     "color":{"field":"s","type":"nominal","scale":{"domain":["raw date","Fitted curve","baceground"],"range":["#333333","#ff1414","#4a6cff"]},"legend":{"title":null,"orient":"top-right","offset":2}},
     "strokeWidth":{"field":"s","type":"nominal","scale":{"domain":["raw date","Fitted curve","baceground"],"range":[1,2.5,2.5]},"legend":{"title":null,"orient":"top-right","offset":2}},
     "strokeDash":{"field":"s","type":"nominal","scale":{"domain":["raw date","Fitted curve","baceground"],"range":[[1,0],[1,0],[1.5,1.5]]},"legend":{"title":null,"orient":"top-right","offset":2}}}},
   {"data":{"name":"d_arrow"},"mark":{"type":"rule","strokeWidth":0.9},"encoding":{"x2":{"field":"x2"},"y2":{"field":"y2"},"color":{"field":"g","type":"nominal","scale":{"domain":["C-O","Mn-O/Ni-O"],"range":["#8b8b2e","#1a9a9a"]},"legend":null}}},
   {"data":{"name":"d_text"},"mark":{"type":"text","align":"left","baseline":"middle","fontSize":12},"encoding":{"text":{"field":"t"},"color":{"field":"g","type":"nominal","scale":{"domain":["C-O","Mn-O/Ni-O"],"range":["#8b8b2e","#1a9a9a"]},"legend":null}}},
   {"data":{"name":"d_head"},"mark":{"type":"text","align":"left","baseline":"middle","fontSize":13.5,"fontWeight":"bold"},"encoding":{"text":{"field":"t"},"color":{"field":"k","type":"nominal","scale":{"domain":["sample","region"],"range":["#000000","#7a1e8e"]},"legend":null}}},
   {"data":{"name":"e_box"},"mark":{"type":"rect","fill":"white","stroke":"#444444","strokeWidth":0.6},"encoding":{"x2":{"field":"x2"},"y2":{"field":"y2"}}},
   {"data":{"name":"e_line"},"mark":{"type":"line","strokeWidth":0.7},"encoding":{"color":{"field":"s","type":"nominal","scale":{"domain":["raw","bg","fit","comp"],"range":["#333333","#4a6cff","#ff3030","#1a9f9f"]},"legend":null}}},
   {"data":{"name":"e_text"},"transform":[{"filter":"datum.z === 'big'"}],"mark":{"type":"text","align":"center","baseline":"middle","fontSize":19,"color":"black"},"encoding":{"text":{"field":"t"}}},
   {"data":{"name":"e_text"},"transform":[{"filter":"datum.z === 'small'"}],"mark":{"type":"text","align":"left","baseline":"middle","fontSize":4,"color":"#444444"},"encoding":{"text":{"field":"t"}}}
  ],
  "resolve":{"scale":{"color":"independent","strokeWidth":"independent","strokeDash":"independent"}}
 }
],
"columns":2,
"bounds":"flush",
"spacing":{"row":53,"column":88}
}
